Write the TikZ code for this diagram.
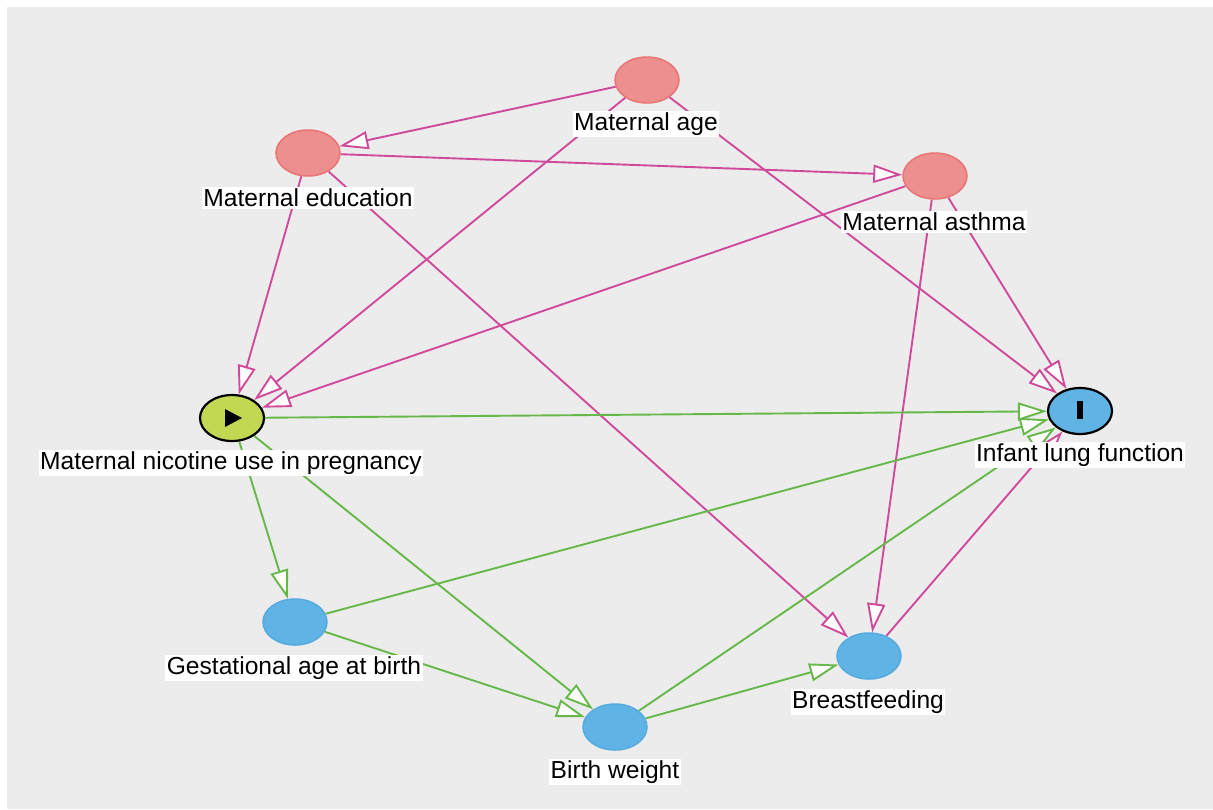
\documentclass[tikz,border=0pt]{standalone}
\usepackage{fontspec}
\setmainfont{Liberation Sans}
\usetikzlibrary{arrows.meta,shapes.geometric}
\definecolor{bgc}{HTML}{ECECEC}
\definecolor{pinkE}{HTML}{D04A9C}
\definecolor{greenE}{HTML}{66B848}
\definecolor{redF}{HTML}{EE8F8F}
\definecolor{redD}{HTML}{E87474}
\definecolor{blueF}{HTML}{5FB3E5}
\definecolor{blueD}{HTML}{55AADF}
\definecolor{yelF}{HTML}{C2D752}
\pgfdeclarelayer{back}
\pgfdeclarelayer{edges}
\pgfsetlayers{back,edges,main}
\begin{document}
\begin{tikzpicture}[x=1pt,y=-1pt,
 var/.style={ellipse, minimum width=64pt, minimum height=46pt, inner sep=0pt, line width=1.5pt},
 anc/.style={var, fill=redF, draw=redD},
 desc/.style={var, fill=blueF, draw=blueD},
 expo/.style={var, fill=yelF, draw=black, line width=2.2pt},
 outc/.style={var, fill=blueF, draw=black, line width=2.2pt},
 lab/.style={fill=white, inner sep=1.5pt, font=\fontsize{24.6}{28}\selectfont},
 bias/.style={draw=pinkE, line width=1.9pt, -{Triangle[length=29pt, width=18pt, fill=white]}},
 causal/.style={draw=greenE, line width=1.9pt, -{Triangle[length=29pt, width=18pt, fill=white]}}
]
\useasboundingbox (0,0) rectangle (1213,809);
\begin{pgfonlayer}{back}
\fill[white] (0,0) rectangle (1213,809);
\fill[bgc] (7,7) rectangle (1213,809);
\end{pgfonlayer}

% nodes
\node[anc] (age) at (647,80) {};
\node[anc] (edu) at (308,153) {};
\node[anc] (ast) at (935,176) {};
\node[expo] (nic) at (232,418) {};
\node[outc] (lung) at (1080,411) {};
\node[desc] (gest) at (295,622) {};
\node[desc] (bw) at (615,727) {};
\node[desc] (bf) at (869,656) {};

% marks
\fill[black] (225,409) -- (225,427) -- (242,418) -- cycle;
\fill[black] (1077,401) rectangle (1083,419);

% edges
\begin{pgfonlayer}{edges}
\draw[bias] (age) -- (edu);
\draw[bias] (age) -- (nic);
\draw[bias] (age) -- (lung);
\draw[bias] (edu) -- (ast);
\draw[bias] (edu) -- (nic);
\draw[bias] (edu) -- (bf);
\draw[bias] (ast) -- (nic);
\draw[bias] (ast) -- (lung);
\draw[bias] (ast) -- (bf);
\draw[bias] (bf) -- (lung);
\draw[causal] (nic) -- (lung);
\draw[causal] (nic) -- (gest);
\draw[causal] (nic) -- (bw);
\draw[causal] (gest) -- (lung);
\draw[causal] (gest) -- (bw);
\draw[causal] (bw) -- (lung);
\draw[causal] (bw) -- (bf);
\end{pgfonlayer}

% labels
\node[lab] (lage) at (646,124) {Maternal age};
\node[lab] (ledu) at (308,198) {Maternal education};
\node[lab] (last) at (934,222) {Maternal asthma};
\node[lab] (lnic) at (231,463) {Maternal nicotine use in pregnancy};
\node[lab] (llung) at (1080,455) {Infant lung function};
\node[lab] (lgest) at (294,668) {Gestational age at birth};
\node[lab] (lbw) at (615,772) {Birth weight};
\node[lab] (lbf) at (868,702) {Breastfeeding};
\end{tikzpicture}
\end{document}
